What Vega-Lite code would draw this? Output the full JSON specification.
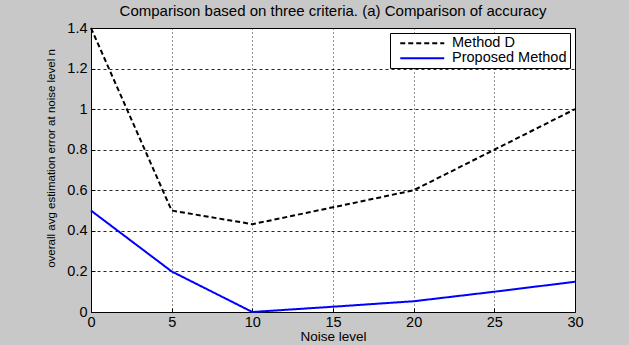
{
  "$schema": "https://vega.github.io/schema/vega-lite/v6.json",
  "width": 484,
  "height": 284,
  "autosize": {"type": "none"},
  "padding": {"left": 91, "top": 28, "right": 54, "bottom": 33},
  "background": "#c8c8c8",
  "title": {"text": "Comparison based on three criteria. (a) Comparison of accuracy", "font": "Liberation Sans", "fontSize": 15, "fontWeight": "normal", "color": "#000000", "anchor": "middle", "offset": 1},
  "config": {
    "view": {"fill": "#ffffff", "stroke": "#000000", "strokeWidth": 1},
    "axis": {"labelFont": "Liberation Sans", "titleFont": "Liberation Sans", "labelColor": "#000000", "titleColor": "#000000", "titleFontWeight": "normal", "domain": false, "tickColor": "#000000", "tickSize": -4, "gridColor": "#000000", "gridOpacity": 0.85, "gridWidth": 1, "labelFontSize": 14.5}
  },
  "data": {"values": [
    {"noise": 0, "err": 1.4, "method": "Method D"},
    {"noise": 5, "err": 0.5, "method": "Method D"},
    {"noise": 10, "err": 0.433, "method": "Method D"},
    {"noise": 15, "err": 0.516, "method": "Method D"},
    {"noise": 20, "err": 0.6, "method": "Method D"},
    {"noise": 25, "err": 0.8, "method": "Method D"},
    {"noise": 30, "err": 1.0, "method": "Method D"},
    {"noise": 0, "err": 0.5, "method": "Proposed Method"},
    {"noise": 5, "err": 0.2, "method": "Proposed Method"},
    {"noise": 10, "err": 0.0, "method": "Proposed Method"},
    {"noise": 15, "err": 0.026, "method": "Proposed Method"},
    {"noise": 20, "err": 0.053, "method": "Proposed Method"},
    {"noise": 25, "err": 0.1, "method": "Proposed Method"},
    {"noise": 30, "err": 0.149, "method": "Proposed Method"}
  ]},
  "mark": {"type": "line", "strokeWidth": 2, "clip": false},
  "encoding": {
    "x": {"field": "noise", "type": "quantitative", "scale": {"domain": [0, 30], "nice": false}, "axis": {"values": [0, 5, 10, 15, 20, 25, 30], "title": "Noise level", "titleFontSize": 13.5, "titlePadding": 1, "labelPadding": 7, "gridDash": [1, 3], "labelFlush": false}},
    "y": {"field": "err", "type": "quantitative", "scale": {"domain": [0, 1.4], "nice": false}, "axis": {"values": [0, 0.2, 0.4, 0.6, 0.8, 1, 1.2, 1.4], "format": "~g", "title": "overall avg estimation error at noise level n", "titleFontSize": 11.5, "titlePadding": 10, "titleY": 130, "labelPadding": 8, "gridDash": [3, 3], "labelFlush": false}},
    "color": {"field": "method", "type": "nominal", "scale": {"domain": ["Method D", "Proposed Method"], "range": ["#000000", "#0000ff"]}, "legend": {"orient": "none", "legendX": 299, "legendY": 5, "title": null, "fillColor": "#ffffff", "strokeColor": "#000000", "padding": 3, "symbolType": "M0,0H8", "symbolSize": 121, "symbolStrokeWidth": 2, "labelFont": "Liberation Sans", "labelFontSize": 14.5, "labelColor": "#000000", "rowPadding": 0, "labelOffset": 44.5}},
    "strokeDash": {"field": "method", "type": "nominal", "scale": {"domain": ["Method D", "Proposed Method"], "range": [[5, 3], [1, 0]]}, "legend": null}
  }
}
